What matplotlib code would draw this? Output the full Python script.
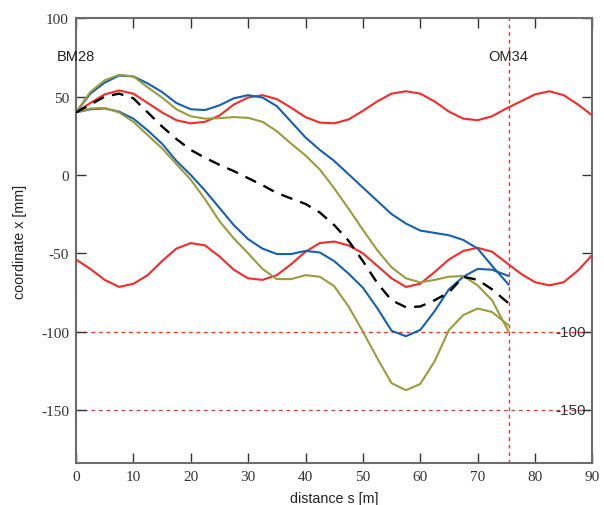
import matplotlib
matplotlib.use("Agg")
import matplotlib.pyplot as plt

# envelope / trajectory data (s in m, x in mm)
s_red = [0, 2.5, 5, 7.5, 10, 12.5, 15, 17.5, 20, 22.5, 25, 27.5, 30, 32.5, 35, 37.5,
         40, 42.5, 45, 47.5, 50, 52.5, 55, 57.5, 60, 62.5, 65, 67.5, 70, 72.5, 75,
         77.5, 80, 82.5, 85, 87.5, 90]
red_upper = [40, 46, 51.5, 54, 52, 46, 40, 35, 33, 34, 38, 45, 49.5, 51, 48.5, 43,
             37, 33.5, 33, 35.5, 41, 47, 52, 53.5, 52, 47, 40.5, 36, 35, 37.5, 42.5,
             47, 51.5, 53.5, 51, 45, 38]
red_lower = [-54, -60, -67, -71.5, -69.5, -64, -55, -47, -43.5, -45, -52, -60.5, -66,
             -67, -64, -57, -49, -43.5, -42.5, -45, -50, -58, -66, -71.5, -69.5, -62,
             -54, -48.5, -46.5, -49, -56, -63, -68.5, -70.5, -68.5, -61, -51]

s_traj = [0, 2.5, 5, 7.5, 10, 12.5, 15, 17.5, 20, 22.5, 25, 27.5, 30, 32.5, 35, 37.5,
          40, 42.5, 45, 47.5, 50, 52.5, 55, 57.5, 60, 62.5, 65, 67.5, 70, 72.5, 75.4]
center = [40, 45, 50, 52, 49, 40, 31, 23, 16, 11, 6.5, 2.5, -2, -6.5, -11.5, -15,
          -18.5, -24, -32, -42, -55, -69, -80, -84.5, -84, -80, -75, -65, -67, -73, -82]
blue_upper = [40, 52, 59, 63.5, 63, 58.5, 53, 46, 42, 41.5, 44.5, 49, 51, 49.5, 44, 34,
              24, 16, 9, 0.5, -8, -16.5, -25, -31, -35.5, -37, -38.5, -41.5, -47, -58, -70]
blue_lower = [40, 42, 42.5, 40.5, 36, 28.5, 20, 9, 0, -10, -21, -32, -41, -47, -50.5,
              -50.5, -48.5, -49.5, -55, -63, -72, -85, -99.5, -103, -99, -87, -73, -65,
              -60, -60.5, -64.5]
green_upper = [40, 53, 60.5, 64, 63, 56, 49.5, 42, 37.5, 36, 36.3, 37, 36.5, 34, 28, 20,
               12.5, 3.5, -8.5, -21.5, -35, -48, -59, -66, -68.6, -67, -65, -64.5, -70.5,
               -80, -100]
green_lower = [40, 42.5, 42.8, 40, 34, 25.5, 17, 7, -3, -15.5, -29.5, -40.5, -50, -60,
               -66.5, -66.5, -64, -65, -71, -84, -100, -117, -133, -137.5, -133.5, -119,
               -99, -89.5, -85.3, -87.5, -96]

markers = ["BM28", "OM34"]
marker_s = [0, 75.4]
limit_levels = [-100, -150]
limit_colors = ["#f52a2a", "#c8403a"]
x_ticks = [0, 10, 20, 30, 40, 50, 60, 70, 80, 90]
y_ticks = [100, 50, 0, -50, -100, -150]

RED = "#f52a2a"
BLUE = "#1560b0"
OLIVE = "#9a9c3c"


def main():
    fig = plt.figure(figsize=(6.04, 5.06), dpi=100)
    ax = fig.add_axes([0.1258, 0.083, 0.855, 0.8785])

    # limits and end marker
    for lv, c in zip(limit_levels, limit_colors):
        ax.axhline(lv, color=c, lw=0.9, ls=(0, (3, 3)), zorder=1)
    ax.axvline(marker_s[1], color=RED, lw=0.9, ls=(0, (3, 3)), zorder=1)

    ax.plot(s_red, red_upper, color=RED, lw=1.5, zorder=3)
    ax.plot(s_red, red_lower, color=RED, lw=1.5, zorder=3)
    ax.plot(s_traj, blue_upper, color=BLUE, lw=1.5, zorder=3)
    ax.plot(s_traj, blue_lower, color=BLUE, lw=1.5, zorder=3)
    ax.plot(s_traj, green_upper, color=OLIVE, lw=1.5, zorder=4)
    ax.plot(s_traj, green_lower, color=OLIVE, lw=1.5, zorder=4)
    ax.plot(s_traj, center, color="black", lw=1.7, ls=(0, (5, 3.5)), zorder=5)

    for name, sp in zip(markers, marker_s):
        ax.text(sp, 76, name, ha="center", va="center", fontsize=10.5,
                family="Liberation Sans", color="#222222")

    for lv in limit_levels:
        ax.text(88.8, lv, str(lv), ha="right", va="center", fontsize=11,
                family="Liberation Sans", color="#333333", zorder=6)

    ax.set_xlim(0, 90)
    ax.set_ylim(-184, 100)
    ax.set_xticks(x_ticks)
    ax.set_yticks(y_ticks)
    ax.set_xticklabels([str(t) for t in x_ticks], family="Liberation Serif", fontsize=11)
    ax.set_yticklabels([str(t) for t in y_ticks], family="Liberation Serif", fontsize=11)
    ax.tick_params(direction="in", length=7, width=1, top=True, right=True,
                   color="#333333", labelcolor="#333333", pad=5)

    for sp in ax.spines.values():
        sp.set_color("#6a6a70")
        sp.set_linewidth(1.5)

    ax.set_xlabel("distance s [m]", family="Liberation Sans", fontsize=10.3,
                  color="#222222", labelpad=6)
    ax.set_ylabel("coordinate x [mm]", family="Liberation Sans", fontsize=10.3,
                  color="#222222", labelpad=10)

    fig.savefig("out.png", dpi=100)


if __name__ == '__main__':
    main()
